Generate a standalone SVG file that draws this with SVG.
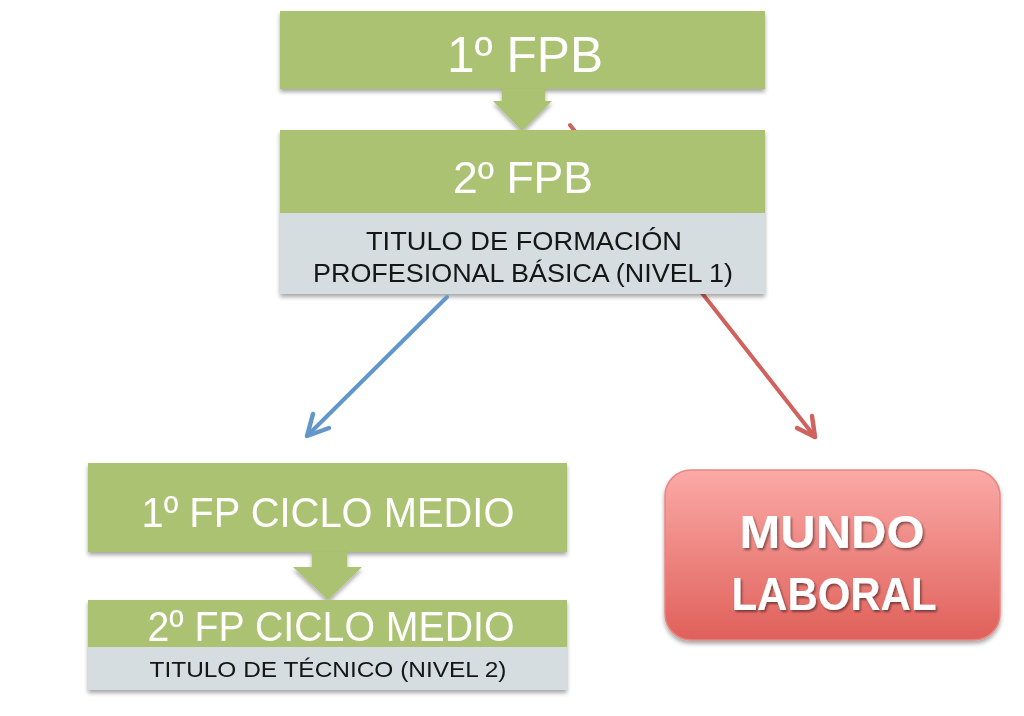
<svg xmlns="http://www.w3.org/2000/svg" width="1024" height="716" viewBox="0 0 1024 716">
<defs>
<style>
.g{fill:#abc272}
.s{fill:#d5dde1}
.wt{fill:#ffffff;font-family:"Liberation Sans",Arial,sans-serif;text-anchor:middle}
.dt{fill:#141414;font-family:"Liberation Sans",Arial,sans-serif;text-anchor:middle}
.mt{fill:#ffffff;font-family:"Liberation Sans",Arial,sans-serif;font-weight:bold;text-anchor:middle}
</style>
<filter id="sh" x="-10%" y="-10%" width="120%" height="130%">
<feDropShadow dx="0" dy="3" stdDeviation="2" flood-color="#000" flood-opacity="0.35"/>
</filter>
<filter id="tsh" x="-10%" y="-20%" width="120%" height="140%">
<feDropShadow dx="1.5" dy="2" stdDeviation="1.2" flood-color="#000" flood-opacity="0.45"/>
</filter>
<linearGradient id="red" x1="0" y1="0" x2="0" y2="1">
<stop offset="0" stop-color="#fbaaa6"/>
<stop offset="1" stop-color="#e0605b"/>
</linearGradient>
</defs>
<rect width="1024" height="716" fill="#ffffff"/>

<g id="connectors">
<g fill="none" stroke-linecap="round" stroke-linejoin="round">
<line x1="570" y1="125" x2="815" y2="437" stroke="#d0615d" stroke-width="4"/>
<polyline points="797,428 815,437 812,416" stroke="#d0615d" stroke-width="4.5"/>
</g>
</g>

<g id="n1" filter="url(#sh)">
<rect class="g" x="280" y="11" width="485" height="78"/>
<text class="wt" x="525" y="72" font-size="50" textLength="156" lengthAdjust="spacingAndGlyphs">1º FPB</text>
</g>
<g id="a1" filter="url(#sh)">
<polygon class="g" points="502,89 545,89 545,101 552,101 522,131 493,101 502,101"/>
</g>

<g id="n2" filter="url(#sh)">
<rect class="g" x="280" y="130" width="485" height="84"/>
<rect class="s" x="280" y="213" width="485" height="81"/>
<text class="wt" x="523" y="193" font-size="44" textLength="140" lengthAdjust="spacingAndGlyphs">2º FPB</text>
<text class="dt" x="524" y="250" font-size="26" textLength="316" lengthAdjust="spacingAndGlyphs">TITULO DE FORMACIÓN</text>
<text class="dt" x="523" y="282" font-size="26" textLength="420" lengthAdjust="spacingAndGlyphs">PROFESIONAL BÁSICA (NIVEL 1)</text>
</g>

<g id="connectors2" fill="none" stroke-linecap="round" stroke-linejoin="round">
<line x1="447" y1="297" x2="307" y2="436" stroke="#6396c9" stroke-width="4"/>
<polyline points="313,414 307,436 329,428" stroke="#6396c9" stroke-width="4.5"/>
</g>

<g id="n3" filter="url(#sh)">
<rect class="g" x="88" y="463" width="479" height="89"/>
<text class="wt" x="328" y="527" font-size="43" textLength="373" lengthAdjust="spacingAndGlyphs">1º FP CICLO MEDIO</text>
</g>
<g id="a2" filter="url(#sh)">
<polygon class="g" points="312,552 347,552 347,567 362,567 328,600 293,567 312,567"/>
</g>

<g id="n4" filter="url(#sh)">
<rect class="g" x="88" y="600" width="479" height="48"/>
<rect class="s" x="88" y="647" width="479" height="43"/>
<text class="wt" x="331" y="641" font-size="43" textLength="367" lengthAdjust="spacingAndGlyphs">2º FP CICLO MEDIO</text>
<text class="dt" x="328" y="677" font-size="22" textLength="357" lengthAdjust="spacingAndGlyphs">TITULO DE TÉCNICO (NIVEL 2)</text>
</g>

<g id="n5">
<rect x="665" y="470" width="335" height="170" rx="26" ry="26" fill="url(#red)" stroke="#e58884" stroke-width="1.5" filter="url(#sh)"/>
<g filter="url(#tsh)">
<text class="mt" x="832" y="548" font-size="46" textLength="185" lengthAdjust="spacingAndGlyphs">MUNDO</text>
<text class="mt" x="834" y="610" font-size="46" textLength="205" lengthAdjust="spacingAndGlyphs">LABORAL</text>
</g>
</g>
</svg>
